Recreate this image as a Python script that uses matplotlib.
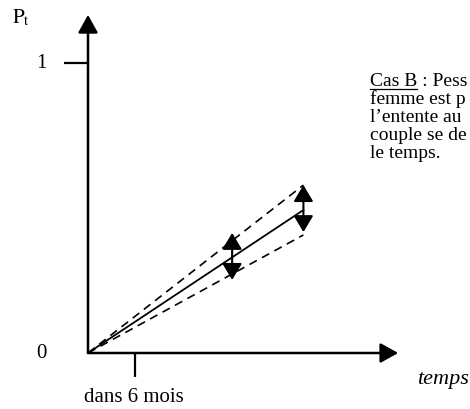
import matplotlib
matplotlib.use("Agg")
import matplotlib.pyplot as plt

plt.rcParams['font.family'] = ['Liberation Serif', 'DejaVu Serif']
plt.rcParams['mathtext.fontset'] = 'stix'

# months on x, probability on y
t_end = 27.5
p_mid = 0.493
p_high = 0.579
p_low = 0.407
arrow_x = [18.4, 27.5]
arrow_top = [0.414, 0.579]
arrow_bot = [0.252, 0.417]
x_tick = 6
y_tick = 1
x_axis_end = 39.6
y_axis_end = 1.166

# the note is cut by the right edge in the source, keep what is visible
case_lines = ["Cas B : Pess",
              "femme est p",
              "l\u2019entente au",
              "couple se de",
              "le temps."]

# pixel -> data helpers (origin of the drawing at 88,353 px)
sx = 47 / 6.0
sy = 290.0
def px(x):
    return (x - 88) / sx
def py(y):
    return (353 - y) / sy

fig = plt.figure(figsize=(4.7, 4.09), dpi=100)
ax = fig.add_axes([0, 0, 1, 1])
ax.set_xlim(px(0), px(470))
ax.set_ylim(py(409), py(0))
ax.axis('off')

# axes with arrow heads
axis_style = '-|>,head_length=1.08,head_width=0.6'
ax.annotate('', xy=(0, y_axis_end), xytext=(0, 0),
            arrowprops=dict(arrowstyle=axis_style, mutation_scale=10, lw=1.8,
                            color='k', shrinkA=0, shrinkB=0))
ax.annotate('', xy=(x_axis_end, 0), xytext=(0, 0),
            arrowprops=dict(arrowstyle=axis_style, mutation_scale=10, lw=1.8,
                            color='k', shrinkA=0, shrinkB=0))
ax.plot([px(64), 0], [y_tick, y_tick], color='k', lw=1.6, solid_capstyle='butt')
ax.plot([x_tick, x_tick], [0, py(377)], color='k', lw=1.6, solid_capstyle='butt')

# expected path and its bounds
ax.plot([0, t_end], [0, p_mid], color='k', lw=1.3)
ax.plot([0, t_end], [0, p_high], color='k', lw=1.2, dashes=(5, 3.5))
ax.plot([0, t_end], [0, p_low], color='k', lw=1.2, dashes=(5, 3.5))

for xa, top, bot in zip(arrow_x, arrow_top, arrow_bot):
    ax.annotate('', xy=(xa, top), xytext=(xa, bot),
                arrowprops=dict(arrowstyle='<|-|>,head_length=1.0,head_width=0.6',
                                mutation_scale=10, lw=1.5, color='k',
                                shrinkA=0, shrinkB=0))

fs = 15
ax.text(px(12), py(23), r'$\mathrm{P}_\mathrm{t}$', fontsize=fs, ha='left', va='baseline')
ax.text(px(41), y_tick, '1', fontsize=fs, ha='center', va='center')
ax.text(px(41), 0, '0', fontsize=fs, ha='center', va='center')
ax.text(x_tick - 0.1, py(402), 'dans 6 mois', fontsize=fs, ha='center', va='baseline')
ax.text(px(417), py(384), 'temps', fontsize=16, style='italic', ha='left', va='baseline')

note_fs = 14
base_y = [86, 104, 122, 140, 158]
for line, by in zip(case_lines, base_y):
    ax.text(px(370), py(by), line, fontsize=note_fs, ha='left', va='baseline')

# underline "Cas B"
r = fig.canvas.get_renderer()
tmp = ax.text(px(370), py(86), 'Cas B', fontsize=note_fs, ha='left', va='baseline', alpha=0)
bb = tmp.get_window_extent(renderer=r)
x0, _ = ax.transData.inverted().transform((bb.x0, 0))
x1, _ = ax.transData.inverted().transform((bb.x1, 0))
ax.plot([x0, x1], [py(89), py(89)], color='k', lw=0.9)

fig.savefig('out.png', dpi=100)
